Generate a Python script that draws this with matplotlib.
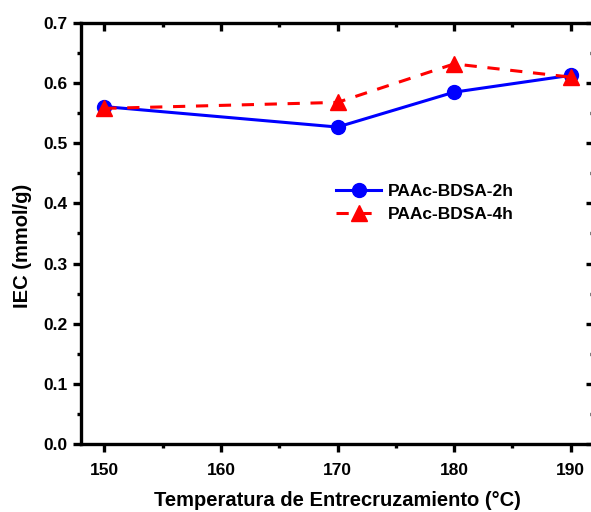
import numpy as np
import matplotlib.pyplot as plt
from matplotlib.ticker import MultipleLocator

plt.rcParams['font.family'] = ['Liberation Sans', 'DejaVu Sans']
plt.rcParams['font.weight'] = 'bold'

temp = np.array([150, 170, 180, 190])
iec_2h = np.array([0.561, 0.527, 0.585, 0.613])
iec_4h = np.array([0.558, 0.568, 0.632, 0.610])

fig = plt.figure(figsize=(5.91, 5.12), dpi=100)
ax = fig.add_axes([81/591, 68/512, 513/591, 421/512])

ax.plot(temp, iec_2h, '-o', color='#0000ff', lw=2.2, ms=10, label='PAAc-BDSA-2h')
ax.plot(temp, iec_4h, '--^', color='#ff0000', lw=2.2, ms=11, dashes=(4, 3.5), label='PAAc-BDSA-4h')

ax.set_xlim(148, 192)
ax.set_ylim(0, 0.7)
ax.xaxis.set_major_locator(MultipleLocator(10))
ax.xaxis.set_minor_locator(MultipleLocator(5))
ax.yaxis.set_major_locator(MultipleLocator(0.1))
ax.yaxis.set_minor_locator(MultipleLocator(0.05))
ax.yaxis.set_major_formatter(plt.FormatStrFormatter('%.1f'))

lw_ax = 2.4
for s in ax.spines.values():
    s.set_linewidth(lw_ax)
ax.tick_params(which='both', direction='out', width=lw_ax, labelsize=12.5)
ax.tick_params(which='major', length=6)
ax.tick_params(which='minor', length=3)
ax.tick_params(axis='x', pad=8)
for lab in ax.get_xticklabels() + ax.get_yticklabels():
    lab.set_fontweight('bold')

# inward ticks on top and right
secx = ax.secondary_xaxis('top')
secx.xaxis.set_major_locator(MultipleLocator(10))
secx.xaxis.set_minor_locator(MultipleLocator(5))
secx.tick_params(which='both', direction='in', width=lw_ax, labeltop=False)
secx.tick_params(which='major', length=6)
secx.tick_params(which='minor', length=3)
secy = ax.secondary_yaxis('right')
secy.yaxis.set_major_locator(MultipleLocator(0.1))
secy.yaxis.set_minor_locator(MultipleLocator(0.05))
secy.tick_params(which='both', direction='in', width=lw_ax, labelright=False)
secy.tick_params(which='major', length=6)
secy.tick_params(which='minor', length=3)

ax.set_xlabel('Temperatura de Entrecruzamiento (°C)', fontsize=14.5, fontweight='bold', labelpad=9)
ax.set_ylabel('IEC (mmol/g)', fontsize=14.5, fontweight='bold', va='center')
ax.yaxis.set_label_coords(-0.115, 0.47)

ax.legend(loc='upper left', bbox_to_anchor=(0.467, 0.655), frameon=False,
          prop={'weight': 'bold', 'size': 12.5}, handlelength=2.6, handletextpad=0.4,
          labelspacing=0.45)

plt.savefig('out.png', dpi=100)
